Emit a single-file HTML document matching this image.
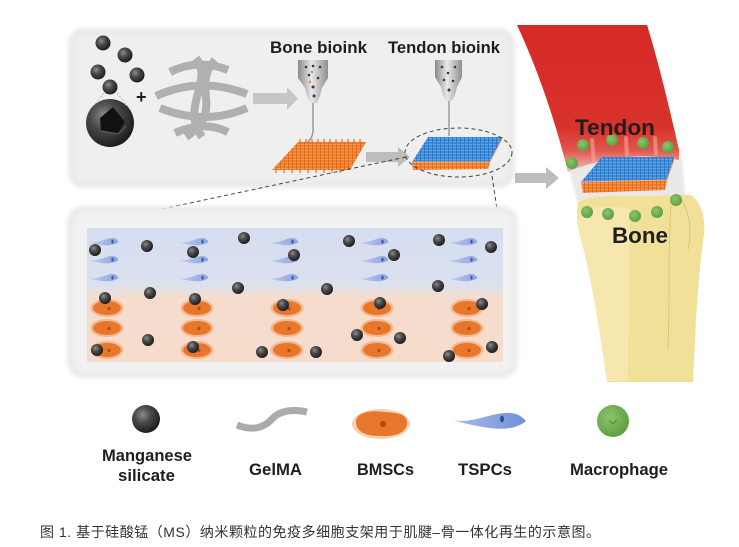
<!DOCTYPE html>
<html><head><meta charset="utf-8"><style>
html,body{margin:0;padding:0;background:#fff;}
svg{display:block;}
.lb{font-family:"Liberation Sans",Arial,sans-serif;font-weight:bold;fill:#1e1e1e;}
</style></head><body>
<svg width="739" height="547" viewBox="0 0 739 547" xmlns="http://www.w3.org/2000/svg">
<defs>
<filter id="soft" x="-5%" y="-5%" width="110%" height="110%"><feGaussianBlur stdDeviation="2.5"/></filter>
<filter id="soft1"><feGaussianBlur stdDeviation="1"/></filter>
<radialGradient id="pg" cx="38%" cy="35%" r="65%"><stop offset="0" stop-color="#8c8c8c"/><stop offset="0.45" stop-color="#4a4a4a"/><stop offset="1" stop-color="#1e1e1e"/></radialGradient>
<radialGradient id="gg" cx="40%" cy="38%" r="65%"><stop offset="0" stop-color="#8cc46c"/><stop offset="1" stop-color="#5c9e40"/></radialGradient>
<linearGradient id="noz" x1="0" x2="1" y1="0" y2="0"><stop offset="0" stop-color="#8a8a8a"/><stop offset="0.45" stop-color="#e8e8e8"/><stop offset="1" stop-color="#8f8f8f"/></linearGradient>
<linearGradient id="red" x1="0" x2="0" y1="25" y2="172" gradientUnits="userSpaceOnUse"><stop offset="0" stop-color="#d42a25"/><stop offset="0.7" stop-color="#d9322b"/><stop offset="0.85" stop-color="#e0554c"/><stop offset="1" stop-color="#f1c2bc"/></linearGradient>
<linearGradient id="panel2" x1="0" x2="0" y1="228" y2="362" gradientUnits="userSpaceOnUse"><stop offset="0" stop-color="#d5ddf0"/><stop offset="0.42" stop-color="#dbe1ef"/><stop offset="0.52" stop-color="#f5dccc"/><stop offset="1" stop-color="#f7dccc"/></linearGradient>
<linearGradient id="tsp" x1="0" x2="1"><stop offset="0" stop-color="#c3cfee"/><stop offset="1" stop-color="#8aa2dd"/></linearGradient>
<linearGradient id="tsp2" x1="0" x2="1"><stop offset="0" stop-color="#a9bdea"/><stop offset="1" stop-color="#6f90d8"/></linearGradient>
<pattern id="og" width="4" height="3" patternUnits="userSpaceOnUse"><rect width="4" height="3" fill="#ef7e2c"/><rect width="4" height="1" fill="#f59d58"/><rect width="1" height="3" fill="#e06c1c"/></pattern>
<pattern id="bg" width="4" height="3" patternUnits="userSpaceOnUse"><rect width="4" height="3" fill="#3b8bd8"/><rect width="4" height="1" fill="#62a8ea"/><rect width="1" height="3" fill="#2e78c4"/></pattern>
<g id="tc"><path d="M-15,0 C-7,2.5 3,-3.8 9,-4 C13,-4 15,-1.5 15.5,0 C11,3.5 3,3.8 -3,2.8 C-8,2 -12,1 -15,0 Z" fill="url(#tsp)"/><ellipse cx="9.5" cy="-0.3" rx="1.2" ry="1.9" fill="#3a5cb0"/></g>
<g id="bc"><ellipse cx="0" cy="0" rx="16.5" ry="9" fill="#f3a878" opacity="0.7"/><ellipse cx="0" cy="0" rx="14" ry="7" fill="#e8772b"/><circle cx="2" cy="0.5" r="1.6" fill="#b34c12"/></g>
<circle id="mp" r="6" fill="url(#pg)"/>
<circle id="gd" r="6" fill="url(#gg)"/>
</defs>

<!-- top panel -->
<rect x="68" y="28" width="447" height="160" rx="16" fill="#e9e9e9" filter="url(#soft)"/>
<rect x="74" y="34" width="435" height="148" rx="12" fill="#efefef" filter="url(#soft)"/>

<!-- MS particles -->
<line x1="104" y1="93" x2="92" y2="108" stroke="#bbb" stroke-width="1" stroke-dasharray="2,2"/>
<line x1="117" y1="93" x2="129" y2="108" stroke="#bbb" stroke-width="1" stroke-dasharray="2,2"/>
<circle cx="103" cy="43" r="7.5" fill="url(#pg)"/>
<circle cx="125" cy="55" r="7.5" fill="url(#pg)"/>
<circle cx="98" cy="72" r="7.5" fill="url(#pg)"/>
<circle cx="137" cy="75" r="7.5" fill="url(#pg)"/>
<circle cx="110" cy="87" r="7.5" fill="url(#pg)"/>
<circle cx="110" cy="123" r="24" fill="url(#pg)"/>
<path d="M100,118 L113,107 L125,122 L118,134 L101,131 Z" fill="#111"/>
<path d="M101,131 L118,134 L126,126" fill="none" stroke="#555" stroke-width="1.5"/>
<text x="136" y="103" class="lb" font-size="18">+</text>

<!-- GelMA network -->
<g fill="none" stroke="#b0b0b0" stroke-width="8" stroke-linecap="butt">
<path d="M170,72 Q198,58 228,70"/>
<path d="M156,96 Q200,76 247,94"/>
<path d="M160,108 Q205,126 247,108"/>
<path d="M175,133 Q204,120 228,132"/>
<path d="M196,58 C214,82 180,106 202,137"/>
<path d="M215,60 C190,88 226,110 186,137"/>
</g>

<!-- arrows -->
<path d="M253,93 L287,93 L287,87 L298,98.5 L287,110 L287,104 L253,104 Z" fill="#c6c6c6"/>
<path d="M366,152 L398,152 L398,147 L410,157 L398,167 L398,162 L366,162 Z" fill="#bdbdbd"/>
<path d="M515,173 L546,173 L546,167 L559,178 L546,189 L546,183 L515,183 Z" fill="#bdbdbd"/>

<!-- nozzles -->
<path d="M298,60 L328,60 L328,78 L322,88 L320,96 L317,103 L310,103 L307,96 L305,88 L298,78 Z" fill="url(#noz)"/>
<g fill="#3a3a3a"><circle cx="306" cy="67" r="1.3"/><circle cx="313" cy="66" r="1.3"/><circle cx="320" cy="67" r="1.3"/><circle cx="309" cy="75" r="1.3"/><circle cx="318" cy="78" r="1.3"/><circle cx="313" cy="87" r="1.5"/><circle cx="314" cy="96" r="1.5"/></g>
<g fill="#e8862f"><circle cx="312" cy="72" r="1.2"/><circle cx="310" cy="82" r="1.2"/></g>
<path d="M313,103 L313,132 Q312,140 304,145" fill="none" stroke="#9a9a9a" stroke-width="1.5"/>
<path d="M435,60 L462,60 L462,77 L457,87 L455,95 L452,101 L446,101 L443,95 L441,87 L435,77 Z" fill="url(#noz)"/>
<g fill="#3a3a3a"><circle cx="442" cy="67" r="1.3"/><circle cx="455" cy="67" r="1.3"/><circle cx="448" cy="73" r="1.3"/><circle cx="444" cy="80" r="1.3"/><circle cx="453" cy="81" r="1.3"/><circle cx="449" cy="90" r="1.5"/></g>
<line x1="449" y1="101" x2="449" y2="136" stroke="#9a9a9a" stroke-width="1.5"/>

<!-- bone scaffold -->
<path d="M298,142 L366,142 L350,170 L272,170 Z" fill="url(#og)"/>
<g stroke="#e3701e" stroke-width="1.2">
<line x1="300" y1="139" x2="300" y2="143"/><line x1="306" y1="139" x2="306" y2="143"/><line x1="312" y1="139" x2="312" y2="143"/><line x1="318" y1="139" x2="318" y2="143"/><line x1="324" y1="139" x2="324" y2="143"/><line x1="330" y1="139" x2="330" y2="143"/><line x1="336" y1="139" x2="336" y2="143"/><line x1="342" y1="139" x2="342" y2="143"/><line x1="348" y1="139" x2="348" y2="143"/><line x1="354" y1="139" x2="354" y2="143"/><line x1="360" y1="139" x2="360" y2="143"/>
<line x1="276" y1="169" x2="276" y2="173"/><line x1="284" y1="169" x2="284" y2="173"/><line x1="292" y1="169" x2="292" y2="173"/><line x1="300" y1="169" x2="300" y2="173"/><line x1="308" y1="169" x2="308" y2="173"/><line x1="316" y1="169" x2="316" y2="173"/><line x1="324" y1="169" x2="324" y2="173"/><line x1="332" y1="169" x2="332" y2="173"/><line x1="340" y1="169" x2="340" y2="173"/>
</g>

<!-- tendon scaffold (top panel) -->
<path d="M412,162 L490,162 L488,169 L413,170 Z" fill="url(#og)"/>
<path d="M428,137 L503,137 L490,162 L412,162 Z" fill="url(#bg)"/>
<path d="M412,162 L490,162 L503,137" fill="none" stroke="#f4b080" stroke-width="1"/>

<!-- dashed ellipse and lines -->
<ellipse cx="458.5" cy="152.5" rx="53.5" ry="24.5" fill="none" stroke="#444" stroke-width="1" stroke-dasharray="4,3"/>
<line x1="406" y1="157" x2="87" y2="225" stroke="#444" stroke-width="1" stroke-dasharray="4,3"/>
<line x1="492" y1="176" x2="500" y2="229" stroke="#444" stroke-width="1" stroke-dasharray="4,3"/>

<!-- labels top -->
<text x="270" y="53" class="lb" font-size="16.5" textLength="97" lengthAdjust="spacingAndGlyphs">Bone bioink</text>
<text x="388" y="53" class="lb" font-size="16.5" textLength="112" lengthAdjust="spacingAndGlyphs">Tendon bioink</text>

<!-- bottom panel -->
<rect x="67" y="206" width="451" height="172" rx="16" fill="#ebebeb" filter="url(#soft)"/>
<rect x="73" y="212" width="439" height="160" rx="12" fill="#f1f1f1" filter="url(#soft)"/>
<rect x="87" y="228" width="416" height="134" fill="url(#panel2)"/>

<!-- TSPCs -->
<g>
<use href="#tc" x="103" y="242"/><use href="#tc" x="103" y="260"/><use href="#tc" x="103" y="278"/>
<use href="#tc" x="193" y="242"/><use href="#tc" x="193" y="260"/><use href="#tc" x="193" y="278"/>
<use href="#tc" x="283" y="242"/><use href="#tc" x="283" y="260"/><use href="#tc" x="283" y="278"/>
<use href="#tc" x="373" y="242"/><use href="#tc" x="373" y="260"/><use href="#tc" x="373" y="278"/>
<use href="#tc" x="462" y="242"/><use href="#tc" x="462" y="260"/><use href="#tc" x="462" y="278"/>
</g>
<!-- BMSCs -->
<g>
<use href="#bc" x="107" y="308"/><use href="#bc" x="107" y="328"/><use href="#bc" x="107" y="350"/>
<use href="#bc" x="197" y="308"/><use href="#bc" x="197" y="328"/><use href="#bc" x="197" y="350"/>
<use href="#bc" x="287" y="308"/><use href="#bc" x="287" y="328"/><use href="#bc" x="287" y="350"/>
<use href="#bc" x="377" y="308"/><use href="#bc" x="377" y="328"/><use href="#bc" x="377" y="350"/>
<use href="#bc" x="467" y="308"/><use href="#bc" x="467" y="328"/><use href="#bc" x="467" y="350"/>
</g>
<!-- MS particles in panel -->
<g>
<use href="#mp" x="95" y="250"/><use href="#mp" x="147" y="246"/><use href="#mp" x="193" y="252"/><use href="#mp" x="244" y="238"/><use href="#mp" x="294" y="255"/><use href="#mp" x="349" y="241"/><use href="#mp" x="394" y="255"/><use href="#mp" x="439" y="240"/><use href="#mp" x="491" y="247"/>
<use href="#mp" x="150" y="293"/><use href="#mp" x="238" y="288"/><use href="#mp" x="327" y="289"/><use href="#mp" x="438" y="286"/>
<use href="#mp" x="105" y="298"/><use href="#mp" x="195" y="299"/><use href="#mp" x="283" y="305"/><use href="#mp" x="380" y="303"/><use href="#mp" x="482" y="304"/>
<use href="#mp" x="148" y="340"/><use href="#mp" x="357" y="335"/><use href="#mp" x="400" y="338"/>
<use href="#mp" x="97" y="350"/><use href="#mp" x="193" y="347"/><use href="#mp" x="262" y="352"/><use href="#mp" x="316" y="352"/><use href="#mp" x="449" y="356"/><use href="#mp" x="492" y="347"/>
</g>

<!-- right: tendon/bone -->
<path d="M566,158 L681,148 L686,203 L579,208 Z" fill="#ebe9e7" filter="url(#soft1)"/>
<path d="M517,25 L647,25 C658,60 670,110 679,150 L679,160 C640,152 600,158 568,172 C555,120 538,70 517,25 Z" fill="url(#red)"/>
<g stroke="#f3a59c" stroke-width="4" opacity="0.6" stroke-linecap="round">
<line x1="592" y1="140" x2="594" y2="162"/><line x1="626" y1="138" x2="627" y2="156"/><line x1="655" y1="138" x2="656" y2="154"/>
</g>
<path d="M578,205 C577,198 600,195 640,196 L690,195 C700,200 706,215 704,235 C700,260 697,300 695,340 L693,382 L607,382 C600,330 590,270 581,240 C577,225 576,212 578,205 Z" fill="#f1e098"/>
<path d="M580,210 C600,205 620,205 630,210 L628,380 L607,382 C600,330 590,270 581,240 C577,225 578,215 580,210 Z" fill="#f6e9b6" opacity="0.75"/>
<path d="M671,205 C668,240 670,300 668,350" fill="none" stroke="#dcc67a" stroke-width="1"/>
<path d="M682,200 C690,215 692,230 688,250" fill="none" stroke="#dcc67a" stroke-width="1"/>

<!-- junction scaffold -->
<path d="M581,182 L667,180 L665,190 L583,193 Z" fill="url(#og)"/>
<path d="M602,157 L675,157 L667,180 L581,182 Z" fill="url(#bg)"/>
<path d="M581,182 L667,180 L675,157" fill="none" stroke="#f4b080" stroke-width="1"/>

<!-- macrophages -->
<use href="#gd" x="583" y="145"/><use href="#gd" x="612" y="140"/><use href="#gd" x="643" y="143"/><use href="#gd" x="668" y="147"/><use href="#gd" x="572" y="163"/>
<use href="#gd" x="587" y="212"/><use href="#gd" x="608" y="214"/><use href="#gd" x="635" y="216"/><use href="#gd" x="657" y="212"/><use href="#gd" x="676" y="200"/>

<text x="575" y="135" class="lb" font-size="22" textLength="80" lengthAdjust="spacingAndGlyphs" fill="#1a1010">Tendon</text>
<text x="612" y="243" class="lb" font-size="22" textLength="56" lengthAdjust="spacingAndGlyphs">Bone</text>

<!-- legend -->
<circle cx="146" cy="419" r="14" fill="url(#pg)"/>
<path d="M237,425 C252,431 264,428 272,419 C280,410 294,409 307,412" fill="none" stroke="#ababab" stroke-width="7"/>
<ellipse cx="381" cy="424" rx="29" ry="15" fill="#f3b083" opacity="0.6"/>
<path d="M356,422 C356,412 372,410 385,412 C398,413 408,414 407,424 C406,434 392,437 380,436 C366,436 356,432 356,422 Z" fill="#e8772b"/>
<circle cx="383" cy="424" r="3" fill="#b04a10"/>
<path d="M453,420 C470,424 488,414 505,413 C515,412 522,416 526,421 C518,428 505,430 490,428 C475,426 462,423 453,420 Z" fill="url(#tsp2)"/>
<ellipse cx="502" cy="419" rx="2" ry="3.5" fill="#2c4d9c"/>
<circle cx="613" cy="421" r="16" fill="url(#gg)"/>
<path d="M609,421 L613,424 L617,420" fill="none" stroke="#4a8a30" stroke-width="1"/>

<text x="102" y="461" class="lb" font-size="16.5" textLength="90" lengthAdjust="spacingAndGlyphs">Manganese</text>
<text x="118" y="481" class="lb" font-size="16.5" textLength="57" lengthAdjust="spacingAndGlyphs">silicate</text>
<text x="249" y="475" class="lb" font-size="16.5" textLength="53" lengthAdjust="spacingAndGlyphs">GelMA</text>
<text x="357" y="475" class="lb" font-size="16.5" textLength="57" lengthAdjust="spacingAndGlyphs">BMSCs</text>
<text x="458" y="475" class="lb" font-size="16.5" textLength="54" lengthAdjust="spacingAndGlyphs">TSPCs</text>
<text x="570" y="475" class="lb" font-size="16.5" textLength="98" lengthAdjust="spacingAndGlyphs">Macrophage</text>

<!-- caption -->
<text x="40" y="537" font-family="'Liberation Sans','Noto Sans CJK SC',sans-serif" font-size="14" fill="#333" textLength="560" lengthAdjust="spacing">图 1. 基于硅酸锰（MS）纳米颗粒的免疫多细胞支架用于肌腱–骨一体化再生的示意图。</text>
</svg>
</body></html>
